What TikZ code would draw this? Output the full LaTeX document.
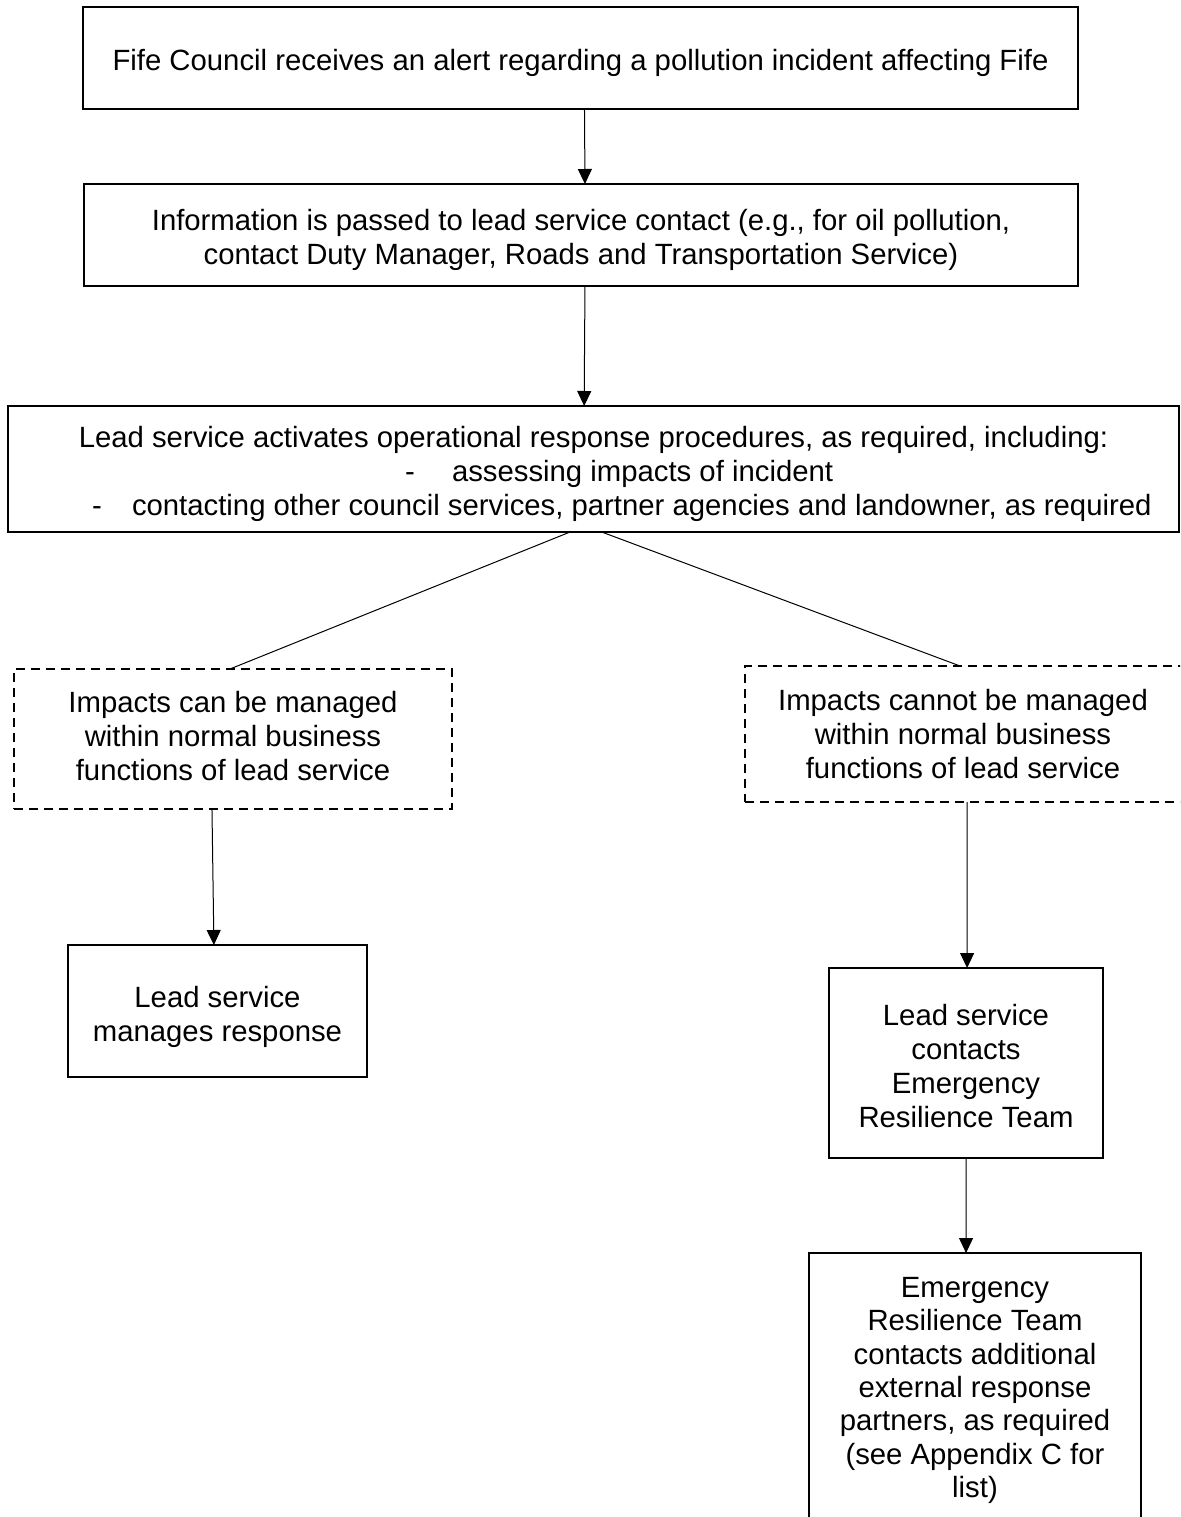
\documentclass[tikz,border=0pt]{standalone}
\usepackage{fontspec}
\setmainfont{Liberation Sans}
\usetikzlibrary{arrows.meta,calc}
\begin{document}
\begin{tikzpicture}[x=1pt,y=-1pt,
  every node/.style={font=\fontsize{29.3}{34}\selectfont, inner sep=0pt, outer sep=0pt},
  box/.style={draw, line width=2pt},
  dbox/.style={draw, line width=2pt, dash pattern=on 9pt off 6pt},
  tx/.style={align=center},
  arr/.style={line width=1pt, -{Triangle[length=15pt,width=14pt]}},
  link/.style={line width=1pt},
  txt/.style={anchor=base}]
\useasboundingbox (0,0) rectangle (1180,1517);
\clip (0,0) rectangle (1180,1517);
\fill[white] (0,0) rectangle (1180,1517);

% boxes
\node[box, minimum width=995pt, minimum height=102pt] (b1) at (580.5,58) {};
\node[box, minimum width=994pt, minimum height=102pt] (b2) at (581,235) {};
\node[box, minimum width=1171pt, minimum height=126pt] (b3) at (593.5,469) {};
\node[dbox, minimum width=438pt, minimum height=140pt] (d1) at (233,739) {};
\node[dbox, minimum width=438pt, minimum height=136pt] (d2) at (964,734) {};
\node[box, minimum width=299pt, minimum height=132pt] (lb) at (217.5,1011) {};
\node[box, minimum width=274pt, minimum height=190pt] (rm) at (966,1063) {};
\node[box, minimum width=332pt, minimum height=270pt] (rb) at (975,1388) {};

% texts
\node[tx] (b1t) at (580.5,62.5)
  {Fife Council receives an alert regarding a pollution incident affecting Fife};
\node[tx] (b2t) at (581,239.5)
  {Information is passed to lead service contact (e.g., for oil pollution,\\
   contact Duty Manager, Roads and Transportation Service)};
\node[txt] (t1) at (593.5,447) {Lead service activates operational response procedures, as required, including:};
\node[txt] (t2a) at (410,481) {-};
\node[anchor=base west] (t2b) at (452,481) {assessing impacts of incident};
\node[txt] (t3a) at (97,515) {-};
\node[anchor=base west] (t3b) at (132,515) {contacting other council services, partner agencies and landowner, as required};
\node[tx] (d1t) at (233,736.5)
  {Impacts can be managed\\ within normal business\\ functions of lead service};
\node[tx] (d2t) at (963,734)
  {Impacts cannot be managed\\ within normal business\\ functions of lead service};
\node[tx] (lbt) at (217.5,1016.5)
  {Lead service\\ manages response};
\node[tx] (rmt) at (966,1066.5)
  {Lead service\\ contacts\\ Emergency\\ Resilience Team};
\node[tx, font=\fontsize{29.3}{33.3}\selectfont] (rbt) at (975,1390.5)
  {Emergency\\ Resilience Team\\ contacts additional\\ external response\\ partners, as required\\ (see Appendix C for\\ list)};

% connectors
\draw[arr] ($(b1.south west)!0.504!(b1.south east)$) -- ($(b2.north west)!0.504!(b2.north east)$);
\draw[arr] ($(b2.south west)!0.504!(b2.south east)$) -- ($(b3.north west)!0.492!(b3.north east)$);
\draw[link] ($(b3.south west)!0.48!(b3.south east)$) -- ($(d1.north west)!0.493!(d1.north east)$);
\draw[link] ($(b3.south west)!0.507!(b3.south east)$) -- ($(d2.north west)!0.491!(d2.north east)$);
\draw[arr] ($(d1.south west)!0.452!(d1.south east)$) -- ($(lb.north west)!0.488!(lb.north east)$);
\draw[arr] ($(d2.south west)!0.507!(d2.south east)$) -- ($(rm.north west)!0.504!(rm.north east)$);
\draw[arr] ($(rm.south west)!0.5!(rm.south east)$) -- ($(rb.north west)!0.473!(rb.north east)$);
\end{tikzpicture}
\end{document}
